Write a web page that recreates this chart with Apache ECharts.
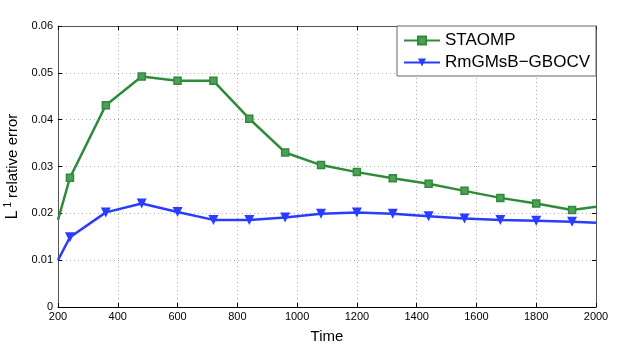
<!DOCTYPE html>
<html><head><meta charset="utf-8">
<script src="https://cdn.jsdelivr.net/npm/echarts@6/dist/echarts.min.js"></script>
<style>html,body{margin:0;padding:0;background:#fff}#c{width:623px;height:346px}</style>
</head><body><div id="c"></div>
<script>
const times = [200, 240, 360, 480, 600, 720, 840, 960, 1080, 1200, 1320, 1440, 1560, 1680, 1800, 1920, 2000];
const staomp = [0.0186, 0.0276, 0.0431, 0.0492, 0.0483, 0.0483, 0.0402, 0.0330, 0.0303, 0.0288, 0.0275, 0.0263, 0.0248, 0.0233, 0.0221, 0.0207, 0.0214];
const rmgmsb = [0.0100, 0.0149, 0.0202, 0.0221, 0.0203, 0.0186, 0.0186, 0.0191, 0.0199, 0.0202, 0.0199, 0.0194, 0.0189, 0.0186, 0.0184, 0.0182, 0.0180];
const xTicks = [200, 400, 600, 800, 1000, 1200, 1400, 1600, 1800, 2000];
const yTicks = [0, 0.01, 0.02, 0.03, 0.04, 0.05, 0.06];

function pts(vals) {
  return vals.map((v, i) => {
    const p = { value: [times[i], v] };
    if (i === 0 || i === vals.length - 1) p.symbol = 'none';
    return p;
  });
}
const green = '#2e8b3a';
const blue = '#2a3cff';
const chart = echarts.init(document.getElementById('c'));
const fontFam = 'Liberation Sans, Arial, sans-serif';
chart.setOption({
  animation: false,
  grid: { left: 58, right: 27, top: 26, bottom: 39, containLabel: false, outerBoundsMode: 'none' },
  legend: {
    right: 27, top: 26, orient: 'vertical',
    backgroundColor: '#fff', borderColor: '#666', borderWidth: 1,
    padding: [6, 6, 5, 6], itemGap: 5, itemWidth: 36, itemHeight: 10,
    textStyle: { fontSize: 17, color: '#000', fontFamily: fontFam },
    data: ['STAOMP', 'RmGMsB\u2212GBOCV']
  },
  xAxis: [{
    type: 'value', min: 200, max: 2000, interval: 200,
    name: 'Time', nameLocation: 'middle', nameGap: 22,
    nameTextStyle: { fontSize: 15, color: '#000', fontFamily: fontFam },
    axisLine: { show: true, lineStyle: { color: '#000', width: 1 } },
    axisTick: { show: true, inside: true, length: 4, lineStyle: { color: '#000' } },
    axisLabel: { fontSize: 11, color: '#000', margin: 4, fontFamily: fontFam,
      formatter: v => String(v), customValues: xTicks },
    splitLine: { show: true, lineStyle: { color: '#aaa', type: [1, 3], width: 1 } }
  }, {
    type: 'value', min: 200, max: 2000, interval: 200, position: 'top',
    axisLine: { show: true, onZero: false, lineStyle: { color: '#555', width: 1 } },
    axisTick: { show: true, inside: true, length: 4, lineStyle: { color: '#000' } },
    axisLabel: { show: false }, splitLine: { show: false }
  }],
  yAxis: [{
    type: 'value', min: 0, max: 0.06, interval: 0.01,
    name: '{b|L}{s| 1} relative error', nameLocation: 'middle', nameGap: 35,
    nameTextStyle: { fontSize: 15, color: '#000', fontFamily: fontFam,
      rich: { b: { fontSize: 16, fontFamily: fontFam, color: '#000' }, s: { fontSize: 10, verticalAlign: 'top', fontFamily: fontFam, color: '#000', padding: [0, 0, 8, 0] } } },
    axisLine: { show: true, lineStyle: { color: '#555', width: 1 } },
    axisTick: { show: true, inside: true, length: 4, lineStyle: { color: '#000' } },
    axisLabel: { fontSize: 11, color: '#000', margin: 5, fontFamily: fontFam,
      formatter: v => v === 0 ? '0' : v.toFixed(2), customValues: yTicks },
    splitLine: { show: true, lineStyle: { color: '#aaa', type: [1, 3], width: 1 } }
  }, {
    type: 'value', min: 0, max: 0.06, interval: 0.01, position: 'right',
    axisLine: { show: true, onZero: false, lineStyle: { color: '#555', width: 1 } },
    axisTick: { show: true, inside: true, length: 4, lineStyle: { color: '#000' } },
    axisLabel: { show: false }, splitLine: { show: false }
  }],
  series: [{
    name: 'STAOMP', type: 'line', data: pts(staomp),
    symbol: 'rect', symbolSize: 7,
    lineStyle: { color: green, width: 2.5 },
    itemStyle: { color: '#4f9e5a', borderColor: green, borderWidth: 1.5 },
    color: green
  }, {
    name: 'RmGMsB\u2212GBOCV', type: 'line', data: pts(rmgmsb),
    symbol: 'triangle', symbolRotate: 180, symbolSize: 10,
    lineStyle: { color: blue, width: 2.5 },
    itemStyle: { color: blue },
    color: blue
  }]
});
</script></body></html>
